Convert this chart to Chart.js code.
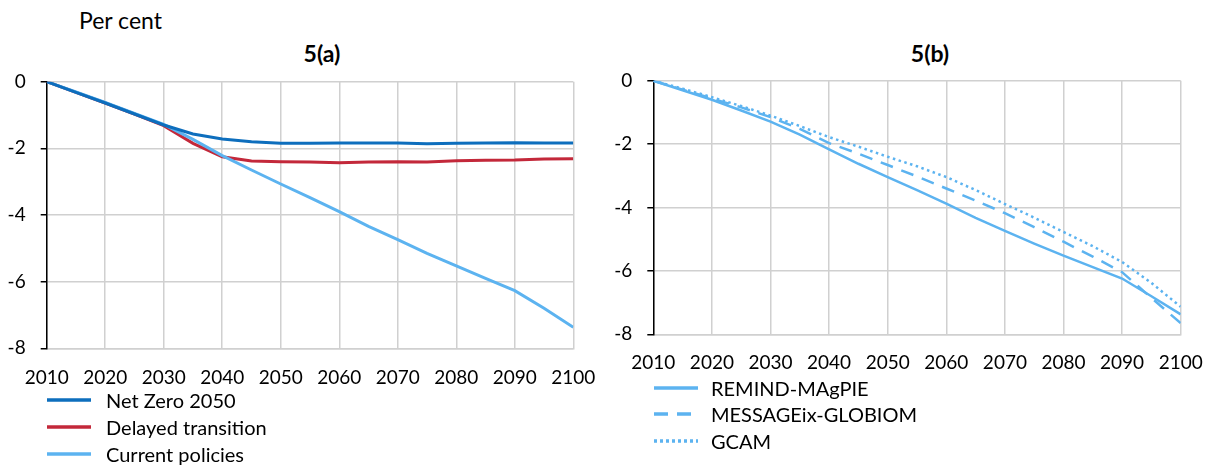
<!DOCTYPE html>
<html>
<head>
<meta charset="utf-8">
<script src="https://cdn.jsdelivr.net/npm/chart.js@4.4.1/dist/chart.umd.min.js"></script>
<style>
  body { margin: 0; background: #fff; font-family: Lato, "Open Sans", sans-serif; color: #000; }
  #page { position: relative; width: 1213px; height: 471px; overflow: hidden; }
  .box { position: absolute; top: 0; }
  .txt { position: absolute; white-space: nowrap; font-size: 23px; }
  .ttl { position: absolute; font-weight: bold; font-size: 23px; transform: translateX(-50%); }
  .legend { position: absolute; font-size: 20px; }
  .legend div { position: absolute; white-space: nowrap; line-height: 22px; }
  .legend svg { position: absolute; top: 9px; left: 0; }
</style>
</head>
<body>
<div id="page">
  <div class="txt" style="left:79px; top:6px;">Per cent</div>
  <div class="ttl" style="left:322px; top:39px;">5(a)</div>
  <div class="ttl" style="left:930px; top:39px;">5(b)</div>
  <div class="box" style="left:0; width:600px; height:400px;"><canvas id="chartA"></canvas></div>
  <div class="box" style="left:600px; width:613px; height:390px;"><canvas id="chartB"></canvas></div>
  <div class="legend" id="legendA" style="left:47px; top:389px;"></div>
  <div class="legend" id="legendB" style="left:654px; top:377px;"></div>
</div>
<script>
// years shown on the x axis, 5-year steps
const years = [2010, 2015, 2020, 2025, 2030, 2035, 2040, 2045, 2050, 2055,
               2060, 2065, 2070, 2075, 2080, 2085, 2090, 2095, 2100];
const yearTicks = [2010, 2020, 2030, 2040, 2050, 2060, 2070, 2080, 2090, 2100];

// 5(a) scenarios, per cent
const netZero   = [0, -0.32, -0.64, -0.97, -1.30, -1.57, -1.72, -1.80, -1.85, -1.85,
                   -1.84, -1.84, -1.84, -1.86, -1.85, -1.84, -1.83, -1.84, -1.84];
const delayed   = [0, -0.32, -0.64, -0.97, -1.32, -1.85, -2.25, -2.38, -2.40, -2.41,
                   -2.43, -2.41, -2.40, -2.41, -2.37, -2.36, -2.35, -2.32, -2.31];
const currentPol = [0, -0.31, -0.62, -0.95, -1.28, -1.73, -2.22, -2.65, -3.07, -3.48,
                   -3.90, -4.34, -4.74, -5.15, -5.53, -5.90, -6.27, -6.80, -7.37];

// 5(b) models, per cent
const remind    = [0, -0.30, -0.60, -0.94, -1.29, -1.70, -2.17, -2.62, -3.04, -3.45,
                   -3.88, -4.33, -4.74, -5.14, -5.52, -5.88, -6.24, -6.80, -7.37];
const message   = [0, -0.28, -0.56, -0.84, -1.15, -1.52, -1.97, -2.30, -2.66, -3.02,
                   -3.40, -3.78, -4.18, -4.62, -5.08, -5.55, -6.04, -6.85, -7.65];
const gcam      = [0, -0.25, -0.52, -0.80, -1.10, -1.43, -1.78, -2.08, -2.40, -2.70,
                   -3.04, -3.45, -3.89, -4.32, -4.77, -5.22, -5.72, -6.38, -7.13];

const yTicks = [0, -2, -4, -6, -8];

const DARK = '#0d6ebd', RED = '#c3283a', LIGHT = '#5cb3f0';
const GRID = '#d0d0d0';
const FONT = { family: 'Lato, "Open Sans", sans-serif', size: 19 };

function baseOptions(area, xPad) {
  return {
    responsive: true,
    maintainAspectRatio: false,
    animation: false,
    layout: { padding: { left: 0, right: area.right, top: area.top, bottom: 0 } },
    plugins: { legend: { display: false }, tooltip: { enabled: false } },
    elements: { point: { radius: 0 }, line: { tension: 0 } },
    scales: {
      x: {
        type: 'linear', min: 2010, max: 2100,
        afterBuildTicks: s => { s.ticks = yearTicks.map(v => ({ value: v })); },
        afterFit: s => { s.height = area.xHeight; s.paddingLeft = 0; s.paddingRight = 0; },
        grid: { color: GRID, lineWidth: 1.5, drawTicks: false },
        border: { color: GRID, width: 1.5 },
        ticks: { color: '#000', font: FONT, padding: xPad, maxRotation: 0, callback: v => String(v) }
      },
      y: {
        min: -8, max: 0,
        afterBuildTicks: s => { s.ticks = yTicks.map(v => ({ value: v })); },
        afterFit: s => { s.width = area.left; s.paddingTop = 0; s.paddingBottom = 0; },
        grid: { color: GRID, lineWidth: 1.5, tickColor: '#000', tickLength: 6 },
        border: { color: '#000', width: 1.5 },
        ticks: { color: '#000', font: FONT, padding: 15 }
      }
    }
  };
}

function pts(vals) { return vals.map((v, i) => ({ x: years[i], y: v })); }

const dsA = [
  { label: 'Net Zero 2050', data: pts(netZero), borderColor: DARK, borderWidth: 3, order: 1 },
  { label: 'Delayed transition', data: pts(delayed), borderColor: RED, borderWidth: 3, order: 3 },
  { label: 'Current policies', data: pts(currentPol), borderColor: LIGHT, borderWidth: 3, order: 2 }
];
const dsB = [
  { label: 'REMIND-MAgPIE', data: pts(remind), borderColor: LIGHT, borderWidth: 2.5 },
  { label: 'MESSAGEix-GLOBIOM', data: pts(message), borderColor: LIGHT, borderWidth: 2.5, borderDash: [13, 9] },
  { label: 'GCAM', data: pts(gcam), borderColor: LIGHT, borderWidth: 2.5, borderDash: [2.5, 3.5] }
];

new Chart(document.getElementById('chartA'), {
  type: 'line',
  data: { datasets: dsA },
  options: baseOptions({ left: 46.7, right: 26.7, top: 81.7, xHeight: 400 - 348.3 }, 18)
});
new Chart(document.getElementById('chartB'), {
  type: 'line',
  data: { datasets: dsB },
  options: baseOptions({ left: 53.3, right: 32.3, top: 80.7, xHeight: 390 - 334.3 }, 17)
});

// legends: a line sample drawn with the dataset's dash, then the label as text
function buildLegend(id, datasets, rowGap, textX, dashes) {
  const el = document.getElementById(id);
  datasets.forEach((d, i) => {
    const row = document.createElement('div');
    row.style.top = (i * rowGap) + 'px';
    const svg = '<svg width="44" height="4"><line x1="0" y1="2" x2="44" y2="2" stroke="' +
      d.borderColor + '" stroke-width="3.5" stroke-dasharray="' + dashes[i] + '"/></svg>';
    const text = '<div style="left:' + textX + 'px; top:0">' + d.label + '</div>';
    row.innerHTML = svg + text;
    el.appendChild(row);
  });
}
buildLegend('legendA', dsA, 27, 59, ['none', 'none', 'none']);
buildLegend('legendB', dsB, 26.3, 57, ['none', '14 9', '3 3']);
</script>
</body>
</html>
